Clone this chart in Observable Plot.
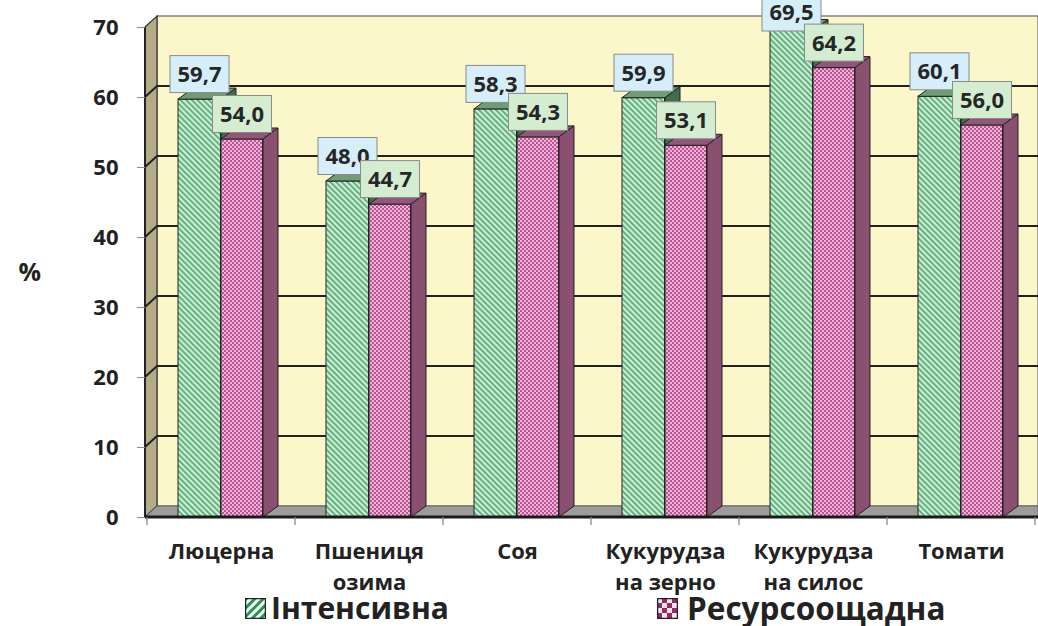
<!DOCTYPE html>
<html><head><meta charset="utf-8">
<script src="https://cdn.jsdelivr.net/npm/d3@7"></script>
<script src="https://cdn.jsdelivr.net/npm/@observablehq/plot@0.6"></script>
<style>
body{margin:0;background:#fff;font-family:"Open Sans",sans-serif;}
#wrap{position:relative;width:1038px;height:626px;overflow:hidden;}
#legend{position:absolute;left:0;top:594px;width:1038px;height:28px;}
.item{position:absolute;top:0;display:flex;align-items:center;font-weight:700;font-size:30px;color:#222;line-height:28px;height:28px;white-space:nowrap;}
.item svg{margin-right:5px}
</style></head>
<body>
<svg width="0" height="0" style="position:absolute">
<defs>
<pattern id="hatch" width="4" height="4" patternUnits="userSpaceOnUse" patternTransform="rotate(-45)">
 <rect width="4" height="4" fill="#cdeed5"/>
 <rect width="1.8" height="4" fill="#5aac7a"/>
</pattern>
<pattern id="check" width="4" height="4" patternUnits="userSpaceOnUse">
 <rect width="4" height="4" fill="#bc5492"/>
 <rect width="2" height="2" fill="#eeb3da"/>
 <rect x="2" y="2" width="2" height="2" fill="#eeb3da"/>
</pattern>
<pattern id="hatchIcon" width="6" height="6" patternUnits="userSpaceOnUse" patternTransform="rotate(45)">
 <rect width="6" height="6" fill="#ffffff"/>
 <rect width="3" height="6" fill="#1f9a4a"/>
</pattern>
<pattern id="checkIcon" width="10" height="10" patternUnits="userSpaceOnUse">
 <rect width="10" height="10" fill="#8e2d62"/>
 <rect width="5" height="5" fill="#f3e3ee"/>
 <rect x="5" y="5" width="5" height="5" fill="#f3e3ee"/>
</pattern>
</defs>
</svg>
<div id="wrap">
<div id="chart"></div>
<div id="legend">
 <div class="item" style="left:245px"><svg width="21" height="21"><rect x="0.5" y="0.5" width="20" height="20" fill="url(#hatchIcon)" stroke="#222" stroke-width="1.5"/></svg><span>Інтенсивна</span></div>
 <div class="item" style="left:657px"><svg width="21" height="21" style="margin-right:9px"><rect x="0.5" y="0.5" width="20" height="20" fill="url(#checkIcon)" stroke="#222" stroke-width="1.5"/></svg><span style="font-size:31.5px">Ресурсоощадна</span></div>
</div>
</div>
<script>
// ---- data ----
const categories = ["Люцерна", "Пшениця озима", "Соя", "Кукурудза на зерно", "Кукурудза на силос", "Томати"];
const categoryLabels = ["Люцерна", "Пшениця\nозима", "Соя", "Кукурудза\nна зерно", "Кукурудза\nна силос", "Томати"];
const intensive = [59.7, 48.0, 58.3, 59.9, 69.5, 60.1];
const resource = [54.0, 44.7, 54.3, 53.1, 64.2, 56.0];
const yTicks = [0, 10, 20, 30, 40, 50, 60, 70];
const seriesNames = ["Інтенсивна", "Ресурсоощадна"];

// ---- style constants ----
const WX = 12, WY = -11;       // wall depth
const DX = 15, DY = -11;       // bar depth
const G = {left: 31, width: 43}; // green bar within band
const P = {left: 74, width: 42}; // pink bar within band

const rowsInt = categories.map((c, i) => ({cat: c, value: intensive[i]}));
const rowsRes = categories.map((c, i) => ({cat: c, value: resource[i]}));
const fmt = v => d3.format(".1f")(v).replace(".", ",");

function walls(index, {x, y}, values, dim) {
  const L = dim.marginLeft, R = dim.width, y0 = y(0), yT = y(yTicks[yTicks.length - 1]);
  const g = d3.create("svg:g");
  g.append("rect").attr("x", L + WX).attr("y", yT + WY).attr("width", R - L - WX).attr("height", y0 - yT)
    .attr("fill", "#fcf7ca").attr("stroke", "#666").attr("stroke-width", 1.2);
  g.append("path").attr("d", `M${L},${yT}L${L + WX},${yT + WY}L${L + WX},${y0 + WY}L${L},${y0}Z`)
    .attr("fill", "#b2ad86").attr("stroke", "#333").attr("stroke-width", 1.2);
  g.append("path").attr("d", `M${L},${y0}L${L + WX},${y0 + WY}L${R},${y0 + WY}L${R},${y0}Z`)
    .attr("fill", "#9c9c9c").attr("stroke", "#555").attr("stroke-width", 0.8);
  for (const t of yTicks.slice(1, -1)) {
    g.append("path").attr("d", `M${L},${y(t)}L${L + WX},${y(t) + WY}H${R}`)
      .attr("fill", "none").attr("stroke", "#222").attr("stroke-width", 2);
  }
  g.append("line").attr("x1", L).attr("x2", L).attr("y1", yT).attr("y2", y0).attr("stroke", "#222").attr("stroke-width", 2);
  return g.node();
}

function faces(rows, geo, topFill, sideFill) {
  return (index, {x, y}) => {
    const g = d3.create("svg:g").attr("stroke", "#222").attr("stroke-width", 1).attr("stroke-linejoin", "round");
    for (const d of rows) {
      const x0 = x(d.cat) + geo.left, x1 = x0 + geo.width, yv = y(d.value), y0 = y(0);
      g.append("path").attr("d", `M${x0},${yv}L${x0 + DX},${yv + DY}L${x1 + DX},${yv + DY}L${x1},${yv}Z`).attr("fill", topFill);
      g.append("path").attr("d", `M${x1},${yv}L${x1 + DX},${yv + DY}L${x1 + DX},${y0 + DY}L${x1},${y0}Z`).attr("fill", sideFill);
    }
    return g.node();
  };
}

function axisLine(index, {x, y}, values, dim) {
  const L = dim.marginLeft, R = dim.width, y0 = y(0);
  const g = d3.create("svg:g");
  g.append("line").attr("x1", L).attr("x2", R).attr("y1", y0).attr("y2", y0).attr("stroke", "#1a1a1a").attr("stroke-width", 3);
  const bw = x.bandwidth();
  for (const c of categories.concat([null])) {
    const xx = c === null ? x(categories[categories.length - 1]) + bw : x(c);
    g.append("line").attr("x1", xx).attr("x2", xx).attr("y1", y0).attr("y2", y0 + 8).attr("stroke", "#888").attr("stroke-width", 1.3);
  }
  return g.node();
}

function labels(index, {x, y}) {
  const g = d3.create("svg:g");
  const sets = [[rowsInt, G, "#d5eef9"], [rowsRes, P, "#d4ecd0"]];
  for (const [rows, geo, fill] of sets) {
    for (const d of rows) {
      const cx = x(d.cat) + geo.left + geo.width / 2;
      const cy = Math.max(y(d.value) - 25, 12.5);
      g.append("rect").attr("x", cx - 29.5).attr("y", cy - 18.5).attr("width", 59).attr("height", 37)
        .attr("fill", fill).attr("stroke", "#8a8a8a").attr("stroke-width", 1);
      g.append("text").attr("x", cx).attr("y", cy).attr("text-anchor", "middle").attr("dy", "0.36em")
        .attr("font-size", 22).attr("font-weight", 700).attr("fill", "#262626").text(fmt(d.value));
    }
  }
  return g.node();
}

const chart = Plot.plot({
  width: 1038,
  height: 626,
  marginLeft: 145,
  marginRight: 2,
  marginTop: 27,
  marginBottom: 109,
  style: {fontFamily: "'Open Sans', sans-serif", background: "transparent", color: "#222"},
  x: {domain: categories, padding: 0},
  y: {domain: [0, 70]},
  marks: [
    walls,
    Plot.barY(rowsInt, {x: "cat", y: "value", insetLeft: G.left, insetRight: 148.5 - G.left - G.width, fill: "url(#hatch)", stroke: "#222", strokeWidth: 1}),
    faces(rowsInt, G, "#6f9d74", "#3f6f4a"),
    Plot.barY(rowsRes, {x: "cat", y: "value", insetLeft: P.left, insetRight: 148.5 - P.left - P.width, fill: "url(#check)", stroke: "#222", strokeWidth: 1}),
    faces(rowsRes, P, "#93567a", "#8a5070"),
    axisLine,
    labels,
    Plot.axisY({ticks: yTicks, tickSize: 8, tickPadding: 19, fontSize: 22, fontWeight: "bold", label: null, stroke: "#888"}),
    Plot.axisX({tickSize: 0, tickPadding: 20, fontSize: 22, fontWeight: "bold", lineHeight: 1.4, label: null,
      tickFormat: d => categoryLabels[categories.indexOf(d)]}),
    Plot.text(["%"], {frameAnchor: "left", dx: -127, fontSize: 25, fontWeight: "bold", fill: "#222"})
  ]
});
document.getElementById("chart").appendChild(chart);
</script>
</body></html>
